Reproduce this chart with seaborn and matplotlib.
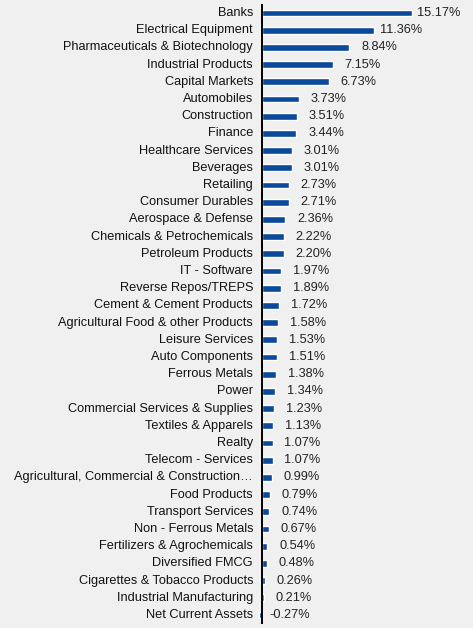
import matplotlib
matplotlib.use("Agg")
import matplotlib.pyplot as plt
import seaborn as sns
import pandas as pd

sectors = [
    "Banks", "Electrical Equipment", "Pharmaceuticals & Biotechnology",
    "Industrial Products", "Capital Markets", "Automobiles", "Construction",
    "Finance", "Healthcare Services", "Beverages", "Retailing",
    "Consumer Durables", "Aerospace & Defense", "Chemicals & Petrochemicals",
    "Petroleum Products", "IT - Software", "Reverse Repos/TREPS",
    "Cement & Cement Products", "Agricultural Food & other Products",
    "Leisure Services", "Auto Components", "Ferrous Metals", "Power",
    "Commercial Services & Supplies", "Textiles & Apparels", "Realty",
    "Telecom - Services", "Agricultural, Commercial & Construction\u2026",
    "Food Products", "Transport Services", "Non - Ferrous Metals",
    "Fertilizers & Agrochemicals", "Diversified FMCG",
    "Cigarettes & Tobacco Products", "Industrial Manufacturing",
    "Net Current Assets",
]
weights = [
    15.17, 11.36, 8.84, 7.15, 6.73, 3.73, 3.51, 3.44, 3.01, 3.01, 2.73,
    2.71, 2.36, 2.22, 2.20, 1.97, 1.89, 1.72, 1.58, 1.53, 1.51, 1.38,
    1.34, 1.23, 1.13, 1.07, 1.07, 0.99, 0.79, 0.74, 0.67, 0.54, 0.48,
    0.26, 0.21, -0.27,
]

bg = "#F0F0F0"
bar_color = "#0B4A9A"

sns.set_theme(style="white")
plt.rcParams["font.family"] = ["Liberation Sans", "DejaVu Sans"]

df = pd.DataFrame({"sector": sectors, "weight": weights})

fig = plt.figure(figsize=(4.73, 6.28), dpi=100, facecolor=bg)
ax = fig.add_axes([250 / 473, 4.4 / 628, 223 / 473, 619.2 / 628])
ax.set_facecolor(bg)

sns.barplot(data=df, x="weight", y="sector", color=bar_color,
            width=0.39, saturation=1, ax=ax)

px_per_unit = 9.89
ax.set_xlim(-12 / px_per_unit, -12 / px_per_unit + 223 / px_per_unit)
ax.set_ylim(len(sectors) - 0.5, -0.5)
ax.axvline(0, color="black", lw=1.4, zorder=5)

for s in ax.spines.values():
    s.set_visible(False)
ax.set_xticks([])
ax.set_yticks([])
ax.set_xlabel("")
ax.set_ylabel("")

for i, (name, v) in enumerate(zip(sectors, weights)):
    ax.annotate(name, xy=(0, i), xytext=(-9, 0), textcoords="offset pixels",
                ha="right", va="center", fontsize=9.2, color="#111111",
                annotation_clip=False)
    ax.annotate(f"{v:.2f}%", xy=(max(v, 0), i), xytext=(48, 0),
                textcoords="offset pixels", ha="right", va="center",
                fontsize=9.2, color="#222222", annotation_clip=False)

fig.savefig("out.png", dpi=100, facecolor=bg)
